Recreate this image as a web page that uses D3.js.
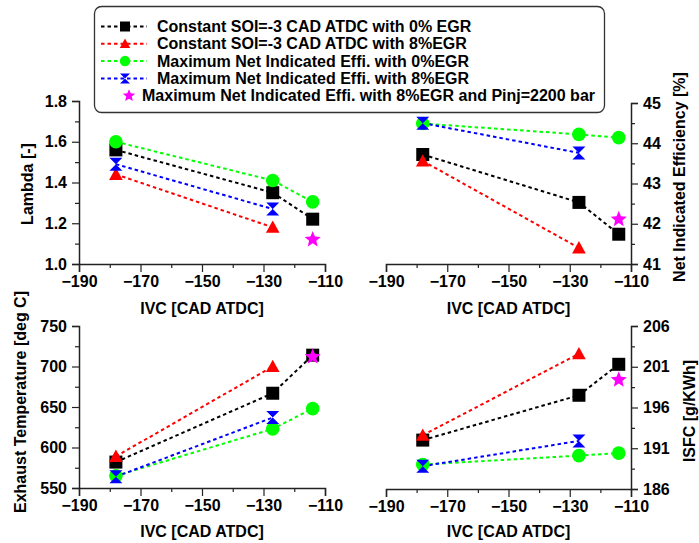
<!DOCTYPE html>
<html><head><meta charset="utf-8">
<script src="https://cdn.jsdelivr.net/npm/d3@7"></script>
<style>
html,body{margin:0;padding:0;background:#fff;}
text{font-family:"Liberation Sans",Arial,sans-serif;font-weight:bold;}
</style></head>
<body>
<svg id="c" width="699" height="543"></svg>
<script>
// ---- data ----
const ivc = [-178, -127, -114];
const ivcStar = [-114];
const seriesNames = [
  "Constant SOI=-3 CAD ATDC with 0% EGR",
  "Constant SOI=-3 CAD ATDC with 8%EGR",
  "Maximum Net Indicated Effi. with 0%EGR",
  "Maximum Net Indicated Effi. with 8%EGR",
  "Maximum Net Indicated Effi. with 8%EGR and Pinj=2200 bar"
];
const seriesColors = ["#000000", "#ff0000", "#00ff00", "#0000ff", "#ff00ff"];
const seriesShapes = ["square", "triangle", "circle", "hourglass", "star"];

// Lambda [-]
const lambdaBlack = [1.56, 1.35, 1.22];
const lambdaRed = [1.44, 1.18];
const lambdaGreen = [1.60, 1.41, 1.305];
const lambdaBlue = [1.49, 1.27];
const lambdaMagenta = [1.12];
// Net Indicated Efficiency [%]
const nieBlack = [43.72, 42.53, 41.74];
const nieRed = [43.56, 41.40];
const nieGreen = [44.49, 44.22, 44.14];
const nieBlue = [44.50, 43.76];
const nieMagenta = [42.11];
// Exhaust Temperature [deg C]
const exhBlack = [582, 667, 714];
const exhRed = [589, 700];
const exhGreen = [565, 623, 648];
const exhBlue = [564, 637];
const exhMagenta = [712];
// ISFC [g/KWh]
const isfcBlack = [192.0, 197.5, 201.3];
const isfcRed = [192.6, 202.6];
const isfcGreen = [189.0, 190.1, 190.4];
const isfcBlue = [188.8, 191.9];
const isfcMagenta = [199.4];

// ticks
const xTicks = [-190, -170, -150, -130, -110];
const xMinor = [-180, -160, -140, -120];
const lambdaTicks = [1.0, 1.2, 1.4, 1.6, 1.8];
const lambdaMinor = [1.1, 1.3, 1.5, 1.7];
const nieTicks = [41, 42, 43, 44, 45];
const nieMinor = [41.5, 42.5, 43.5, 44.5];
const exhTicks = [550, 600, 650, 700, 750];
const exhMinor = [575, 625, 675, 725];
const isfcTicks = [186, 191, 196, 201, 206];
const isfcMinor = [188.5, 193.5, 198.5, 203.5];

// ---- drawing ----
const svg = d3.select("#c");

function shapePath(shape, s) {
  const h = s / 2;
  if (shape === "square") return `M${-h},${-h}H${h}V${h}H${-h}Z`;
  if (shape === "triangle") return `M0,${-h*1.05}L${h*1.05},${h*0.85}L${-h*1.05},${h*0.85}Z`;
  if (shape === "circle") return d3.symbol().type(d3.symbolCircle).size(Math.PI * h * h * 1.1)();
  if (shape === "hourglass") return `M${-h},${-h}H${h}L0,0L${h},${h}H${-h}L0,0Z`;
  if (shape === "star") {
    const ro = h * 1.3, ri = ro * 0.45;
    let p = "";
    for (let i = 0; i < 10; i++) {
      const r = i % 2 ? ri : ro;
      const a = -Math.PI / 2 + i * Math.PI / 5;
      p += (i ? "L" : "M") + (r * Math.cos(a)).toFixed(2) + "," + (r * Math.sin(a)).toFixed(2);
    }
    return p + "Z";
  }
}

function panel(cfg) {
  const x = d3.scaleLinear().domain([-190, -110]).range([cfg.x0, cfg.x1]);
  const y = d3.scaleLinear().domain(cfg.domain).range([cfg.y1, cfg.y0]);
  const g = svg.append("g");
  // x axis
  const xa = g.append("g").attr("transform", `translate(0,${cfg.y1})`)
    .call(d3.axisBottom(x).tickValues(xTicks).tickSize(8).tickPadding(4).tickFormat(d3.format("d")));
  g.append("g").attr("transform", `translate(0,${cfg.y1})`)
    .call(d3.axisBottom(x).tickValues(xMinor).tickSize(4).tickFormat(""))
    .select(".domain").remove();
  // y axis
  const yAx = cfg.right ? d3.axisRight(y) : d3.axisLeft(y);
  const ya = g.append("g").attr("transform", `translate(${cfg.right ? cfg.x1 : cfg.x0},0)`)
    .call(yAx.tickValues(cfg.ticks).tickSize(7).tickPadding(5).tickFormat(cfg.fmt));
  const yAm = cfg.right ? d3.axisRight(y) : d3.axisLeft(y);
  g.append("g").attr("transform", `translate(${cfg.right ? cfg.x1 : cfg.x0},0)`)
    .call(yAm.tickValues(cfg.minor).tickSize(4).tickFormat(""))
    .select(".domain").remove();
  g.selectAll(".domain").attr("stroke", "#222").attr("stroke-width", 1.5);
  g.selectAll(".tick line").attr("stroke", "#222").attr("stroke-width", 1.2);
  g.selectAll(".tick text").attr("font-size", 16).attr("fill", "#000")
    .style("font-family", '"Liberation Sans",Arial,sans-serif').style("font-weight", "bold");
  // titles
  g.append("text").attr("x", (cfg.x0 + cfg.x1) / 2).attr("y", cfg.y1 + cfg.xtY)
    .attr("text-anchor", "middle").attr("font-size", 16).text("IVC [CAD ATDC]");
  g.append("text").attr("transform", `translate(${cfg.ytX},${cfg.ytY}) rotate(-90)`)
    .attr("text-anchor", "middle").attr("font-size", 16).text(cfg.ytitle);
  // series
  cfg.series.forEach((vals, i) => {
    const xs = i === 4 ? ivcStar : ivc;
    const pts = vals.map((v, j) => [x(xs[j]), y(v)]);
    if (pts.length > 1) {
      g.append("path").attr("d", d3.line()(pts)).attr("fill", "none")
        .attr("stroke", seriesColors[i]).attr("stroke-width", 2).attr("stroke-dasharray", "3.5,3");
    }
  });
  cfg.series.forEach((vals, i) => {
    const xs = i === 4 ? ivcStar : ivc;
    vals.forEach((v, j) => {
      g.append("path").attr("d", shapePath(seriesShapes[i], 13))
        .attr("transform", `translate(${x(xs[j])},${y(v)})`).attr("fill", seriesColors[i]);
    });
  });
}

panel({x0: 79, x1: 325, y0: 101, y1: 264, domain: [1.0, 1.8], ticks: lambdaTicks, minor: lambdaMinor,
  fmt: d3.format(".1f"), right: false, ytitle: "Lambda [-]", ytX: 33, ytY: 184, xtY: 50,
  series: [lambdaBlack, lambdaRed, lambdaGreen, lambdaBlue, lambdaMagenta]});
panel({x0: 386, x1: 631, y0: 103, y1: 264, domain: [41, 45], ticks: nieTicks, minor: nieMinor,
  fmt: d3.format("d"), right: true, ytitle: "Net Indicated Efficiency [%]", ytX: 685, ytY: 177, xtY: 50,
  series: [nieBlack, nieRed, nieGreen, nieBlue, nieMagenta]});
panel({x0: 79, x1: 325, y0: 326, y1: 488, domain: [550, 750], ticks: exhTicks, minor: exhMinor,
  fmt: d3.format("d"), right: false, ytitle: "Exhaust Temperature [deg C]", ytX: 26, ytY: 402, xtY: 49,
  series: [exhBlack, exhRed, exhGreen, exhBlue, exhMagenta]});
panel({x0: 386, x1: 631, y0: 326, y1: 489, domain: [186, 206], ticks: isfcTicks, minor: isfcMinor,
  fmt: d3.format("d"), right: true, ytitle: "ISFC [g/KWh]", ytX: 695, ytY: 411, xtY: 48,
  series: [isfcBlack, isfcRed, isfcGreen, isfcBlue, isfcMagenta]});

// legend
const lg = svg.append("g");
lg.append("rect").attr("x", 94.5).attr("y", 6.5).attr("width", 510).attr("height", 106)
  .attr("rx", 7).attr("fill", "#fff").attr("stroke", "#333").attr("stroke-width", 1.3);
seriesNames.forEach((name, i) => {
  const cy = 26.5 + i * 17.3;
  if (i < 4) {
    lg.append("line").attr("x1", 101).attr("x2", 147).attr("y1", cy).attr("y2", cy)
      .attr("stroke", seriesColors[i]).attr("stroke-width", 2).attr("stroke-dasharray", "3.5,3");
  }
  const mx = i < 4 ? 125 : 129;
  lg.append("path").attr("d", shapePath(seriesShapes[i], 10))
    .attr("transform", `translate(${mx},${cy})`).attr("fill", seriesColors[i]);
  lg.append("text").attr("x", i < 4 ? 157 : 142).attr("y", cy + 5.5)
    .attr("font-size", 16).text(name);
});
</script>
</body></html>
